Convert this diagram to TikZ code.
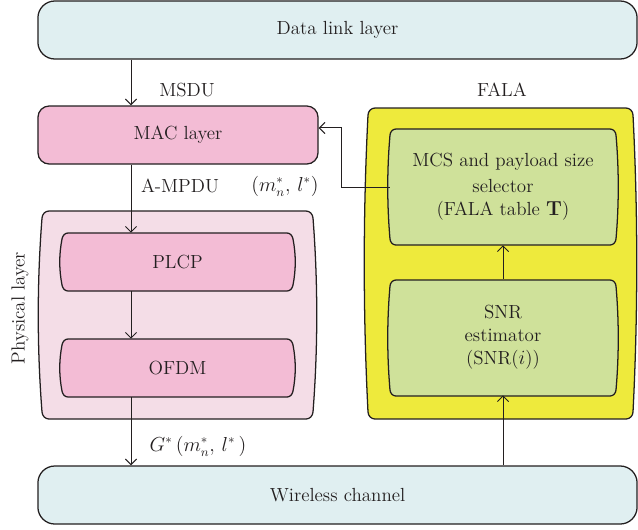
\documentclass[tikz,border=0pt]{standalone}
\usepackage{amsmath}
\usepackage{amssymb}
\usetikzlibrary{arrows.meta}

\definecolor{ink}{HTML}{231F20}
\definecolor{linkblue}{HTML}{E0EFF1}
\definecolor{macpink}{HTML}{F3BCD5}
\definecolor{phypink}{HTML}{F4DDE7}
\definecolor{falayellow}{HTML}{EEEA3C}
\definecolor{falagreen}{HTML}{CFE19A}

% box with small rounded corners and slightly bulging sides
% #1 style, #2 x1, #3 y1, #4 x2, #5 y2, #6 corner, #7 bulge
\newcommand{\barrel}[7]{%
  \pgfmathsetmacro{\brlside}{(#5-#3-2*#6)/3}%
  \pgfmathsetmacro{\brlctl}{0.55*#6}%
  \pgfmathsetmacro{\brlslope}{#7*0.55*#6/\brlside}%
  \path[#1] (#2+#6,#3) -- (#4-#6,#3)
    .. controls (#4-#6+\brlctl,#3) and (#4-\brlslope,#3+#6-\brlctl) .. (#4,#3+#6)
    .. controls (#4+#7,#3+#6+\brlside) and (#4+#7,#5-#6-\brlside) .. (#4,#5-#6)
    .. controls (#4-\brlslope,#5-#6+\brlctl) and (#4-#6+\brlctl,#5) .. (#4-#6,#5)
    -- (#2+#6,#5)
    .. controls (#2+#6-\brlctl,#5) and (#2+\brlslope,#5-#6+\brlctl) .. (#2,#5-#6)
    .. controls (#2-#7,#5-#6-\brlside) and (#2-#7,#3+#6+\brlside) .. (#2,#3+#6)
    .. controls (#2+\brlslope,#3+#6-\brlctl) and (#2+#6-\brlctl,#3) .. (#2+#6,#3) -- cycle;}

\begin{document}
\begin{tikzpicture}[x=0.025cm,y=-0.025cm]
            \tikzset{line/.style={line width=0.9pt,draw=ink}};
            \tikzset{arr/.style={line width=0.7pt,draw=ink,-{Straight Barb[length=4pt,width=8pt]}}};
            \tikzset{lbl/.style={text=ink,font=\fontsize{13.5}{16.5}\selectfont}};
            \tikzset{box/.style={lbl,inner sep=0pt,align=center}};

            \useasboundingbox (0,0) rectangle (638,529);

            % containers
            \barrel{line,fill=phypink}{42}{211}{313}{419}{7}{5}
            \barrel{line,fill=falayellow}{368}{108}{633}{419}{7}{5}

            % inner boxes
            \barrel{line,fill=macpink}{62}{233}{293}{291}{6}{3}
            \barrel{line,fill=macpink}{62}{339}{293}{397}{6}{3}
            \barrel{line,fill=falagreen}{390}{129}{616}{245}{6}{3}
            \barrel{line,fill=falagreen}{390}{280}{616}{396}{6}{3}

            \node[box,line,fill=linkblue,rounded corners=12,minimum width=14.975cm,minimum height=1.45cm] (dl) at (337.5,30) {Data link layer};
            \node[box,line,fill=macpink,rounded corners=8,minimum width=7cm,minimum height=1.45cm] (mac) at (178,135) {MAC layer};
            \node[box,line,fill=linkblue,rounded corners=12,minimum width=14.975cm,minimum height=1.45cm] (wc) at (337.5,495) {Wireless channel};

            \node[box,minimum width=5.775cm,minimum height=1.45cm] (plcp) at (177.5,262) {PLCP};
            \node[box,minimum width=5.775cm,minimum height=1.45cm] (ofdm) at (177.5,368) {OFDM};
            \node[box,minimum width=5.65cm,minimum height=2.9cm] (mcs) at (503,187) {MCS and payload size\\[2pt] selector\\ (FALA table $\mathbf{T}$)};
            \node[box,minimum width=5.65cm,minimum height=2.9cm] (snr) at (503,337) {SNR\\ estimator\\ (SNR($i$))};

            % labels
            \node[lbl] (msdu) at (187,90) {MSDU};
            \node[lbl] (fala) at (502,90) {FALA};
            \node[lbl] (ampdu) at (180,186) {A-MPDU};
            \node[lbl] (sel) at (285,186) {$(m_n^{*},\,l^{*})$};
            \node[lbl] (gain) at (198,446) {$G^{*}\,(m_n^{*},\,l^{*}\,)$};
            \node[lbl,rotate=90] (phy) at (20,308) {Physical layer};

            % connectors
            \coordinate (lx) at (131,0);
            \draw[arr] (dl.south -| lx) -- (mac.north -| lx);
            \draw[arr] (mac.south -| lx) -- (plcp.north -| lx);
            \draw[arr] (plcp.south -| lx) -- (ofdm.north -| lx);
            \draw[arr] (ofdm.south -| lx) -- (wc.north -| lx);
            \draw[arr] (wc.north -| snr.south) -- (snr.south);
            \draw[arr] (snr.north) -- (mcs.south);
            \draw[arr] (mcs.west) -- ++(-48,0) |- ([yshift=5pt]mac.east);
        \end{tikzpicture}
\end{document}
